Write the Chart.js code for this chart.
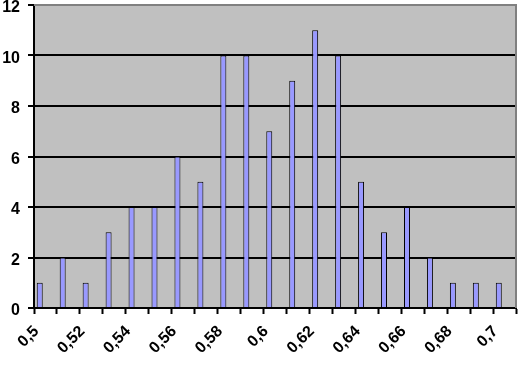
<!DOCTYPE html>
<html>
<head>
<meta charset="utf-8">
<script src="https://cdn.jsdelivr.net/npm/chart.js@4/dist/chart.umd.min.js"></script>
<style>
  html, body { margin: 0; padding: 0; background: #ffffff; }
  #wrap { width: 518px; height: 368px; }
</style>
</head>
<body>
<div id="wrap"><canvas id="grafico"></canvas></div>
<script>
// valores de la clase (eje x) y frecuencia de cada una
var clases = [0.5, 0.51, 0.52, 0.53, 0.54, 0.55, 0.56, 0.57, 0.58, 0.59, 0.6,
              0.61, 0.62, 0.63, 0.64, 0.65, 0.66, 0.67, 0.68, 0.69, 0.7];
var frecuencias = [1, 2, 1, 3, 4, 4, 6, 5, 10, 10, 7, 9, 11, 10, 5, 3, 4, 2, 1, 1, 1];
var marcasY = [0, 2, 4, 6, 8, 10, 12];

var etiquetas = clases.map(function (c) { return String(c).replace('.', ','); });

// fondo gris del area de trazado y borde gris arriba/derecha
var fondoArea = {
    id: 'fondoArea',
    beforeDraw: function (chart) {
        var a = chart.chartArea, ctx = chart.ctx;
        ctx.save();
        ctx.fillStyle = '#c0c0c0';
        ctx.fillRect(a.left, a.top, a.right - a.left, a.bottom - a.top);
        ctx.restore();
    },
    afterDatasetsDraw: function (chart) {
        var a = chart.chartArea, ctx = chart.ctx;
        ctx.save();
        ctx.strokeStyle = '#808080';
        ctx.lineWidth = 2;
        ctx.beginPath();
        ctx.moveTo(a.left, a.top);
        ctx.lineTo(a.right, a.top);
        ctx.lineTo(a.right, a.bottom);
        ctx.stroke();
        ctx.restore();
    }
};

var fuente = { family: "'Liberation Sans', Arial, sans-serif", size: 16, weight: 'bold' };

const ctx = document.getElementById('grafico');
var myChart = new Chart(ctx, {
    type: 'bar',
    data: {
        labels: etiquetas,
        datasets: [{
            label: 'Frecuencia',
            data: frecuencias,
            backgroundColor: '#9999ff',
            borderColor: '#000000',
            borderWidth: 1,
            borderSkipped: 'bottom'
        }, {
            // serie vacia: deja el hueco a la derecha de cada barra
            label: '',
            data: frecuencias.map(function () { return null; })
        }]
    },
    plugins: [fondoArea],
    options: {
        responsive: true,
        maintainAspectRatio: false,
        animation: false,
        layout: { padding: { top: 5, right: 2, left: 0, bottom: 0 } },
        datasets: {
            bar: { categoryPercentage: 1.0, barPercentage: 0.52 }
        },
        plugins: {
            legend: { display: false },
            tooltip: { enabled: false }
        },
        scales: {
            x: {
                offset: true,
                grid: {
                    offset: true,
                    drawOnChartArea: false,
                    drawTicks: true,
                    tickLength: 6,
                    tickColor: '#000000',
                    tickWidth: 2
                },
                border: { color: '#000000', width: 2 },
                ticks: {
                    autoSkip: false,
                    minRotation: 45,
                    maxRotation: 45,
                    color: '#000000',
                    font: fuente,
                    padding: 8,
                    labelOffset: -9,
                    callback: function (val, i) { return i % 2 === 0 ? etiquetas[i] : ''; }
                },
                afterFit: function (scale) {
                    scale.height = 60;
                    scale.paddingLeft = 0;
                    scale.paddingRight = 0;
                }
            },
            y: {
                min: marcasY[0],
                max: marcasY[marcasY.length - 1],
                afterBuildTicks: function (scale) {
                    scale.ticks = marcasY.map(function (v) { return { value: v }; });
                },
                grid: {
                    color: function (c) { return c.tick && c.tick.value === 12 ? 'rgba(0,0,0,0)' : '#000000'; },
                    lineWidth: 2,
                    drawTicks: true,
                    tickLength: 6,
                    tickColor: '#000000',
                    tickWidth: 2
                },
                border: { color: '#000000', width: 2 },
                ticks: {
                    color: '#000000',
                    font: fuente,
                    padding: 8,
                    labelOffset: 3
                },
                afterFit: function (scale) {
                    scale.width = 34;
                    scale.paddingTop = 0;
                    scale.paddingBottom = 0;
                }
            }
        }
    }
});
</script>
</body>
</html>
